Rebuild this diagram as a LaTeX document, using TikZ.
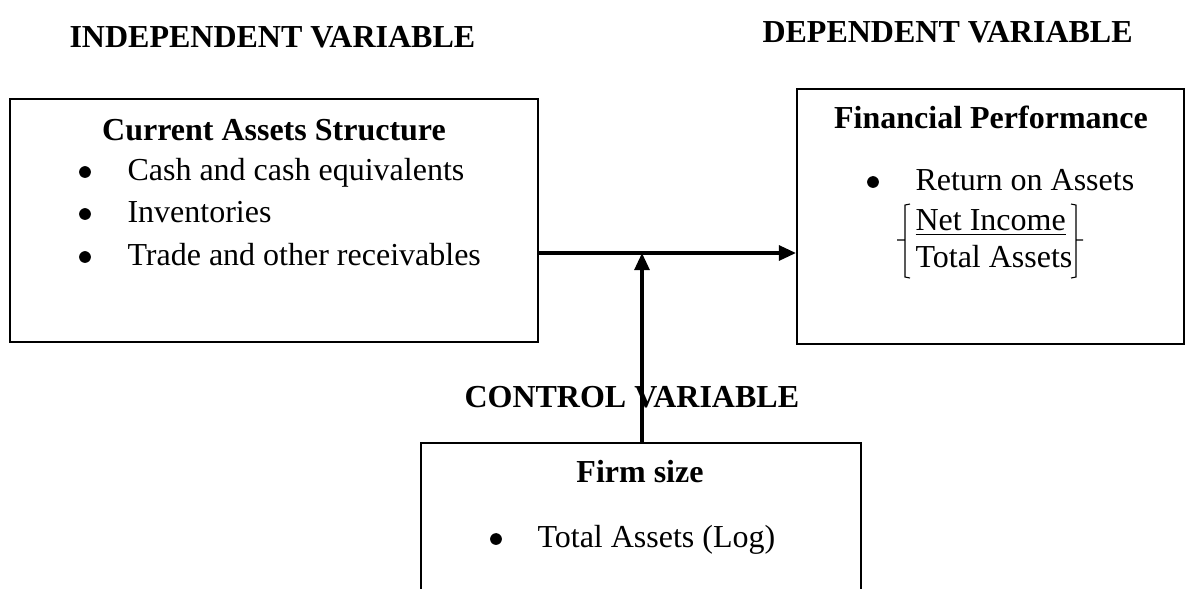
\documentclass[tikz,border=0pt]{standalone}
\usepackage{fontspec}
\setmainfont{Liberation Serif}
\usetikzlibrary{positioning,arrows.meta,calc}

\begin{document}
\begin{tikzpicture}[x=0.375pt, y=-0.375pt, >={Triangle[length=6.4pt,width=5.6pt]},
   box/.style={draw, line width=0.8pt, inner sep=0pt},
   txt/.style={inner sep=0pt, font=\fontsize{12}{14}\selectfont},
   hd/.style={txt, font=\fontsize{12}{14}\selectfont\bfseries},
   dot/.style={circle, fill, inner sep=0pt, minimum size=4.4pt},
   conn/.style={->, line width=1.2pt}]
  \useasboundingbox (0,0) rectangle (1186,588);
  \clip (0,0) rectangle (1186,588);
  % headings
  \node[hd, anchor=base west] (indep) at (69,47) {INDEPENDENT VARIABLE};
  \node[hd, anchor=base west] (dep) at (762,42) {DEPENDENT VARIABLE};
  \node[hd, anchor=base west] (ctrl) at (464,407) {CONTROL VARIABLE};
  % boxes
  \node[box, minimum width=198pt, minimum height=91.1pt] (cas) at (274,220.5) {};
  \node[box, minimum width=145.1pt, minimum height=95.6pt] (fp) at (990.5,216.5) {};
  \node[box, minimum width=165pt, minimum height=75pt] (fs) at (641,543) {};
  % current assets structure
  \node[hd, anchor=base] (castitle) at (274,140) {Current Assets Structure};
  \foreach \y/\t [count=\i] in {180/Cash and cash equivalents, 222/Inventories, 265/Trade and other receivables} {
    \node[dot] (casb\i) at (85,\y-8) {};
    \node[txt, anchor=base west] (cas\i) at (127,\y) {\t};
  }
  % financial performance
  \node[hd, anchor=base] (fptitle) at (991,128) {Financial Performance};
  \node[dot] (fpb) at (873,182) {};
  \node[txt, anchor=base west] (roa) at (915,190) {Return on Assets};
  \node[txt, anchor=base west] (ni) at (915,230) {\underline{Net Income}};
  \node[txt, anchor=base west] (ta) at (915,267) {Total Assets};
  \draw[line width=0.4pt] (910,204) -- (905,205) -- (905,240) -- (897,240)
                          (905,240) -- (905,277) -- (910,278);
  \draw[line width=0.4pt] (1071,204) -- (1076,205) -- (1076,240) -- (1083,240)
                          (1076,240) -- (1076,277) -- (1071,278);
  % firm size
  \node[hd, anchor=base] (fstitle) at (640,482) {Firm size};
  \node[dot] (fsb) at (496,539) {};
  \node[txt, anchor=base west] (tal) at (537,547) {Total Assets (Log)};
  % connectors
  \coordinate (mid) at (642,253);
  \draw[conn] (cas.east |- mid) -- (fp.west |- mid);
  \draw[conn] (fs.north -| mid) -- (mid);
\end{tikzpicture}
\end{document}
